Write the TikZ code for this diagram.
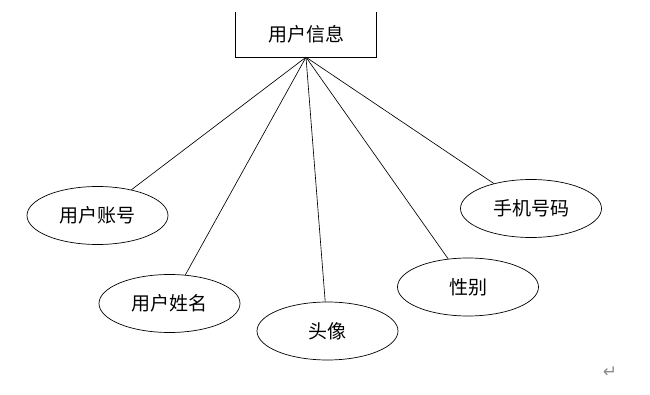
\documentclass[tikz,border=0pt]{standalone}
\usepackage{fontspec}
\usepackage{tikz}
\usetikzlibrary{shapes.geometric}
\newfontfamily\cjk{Noto Sans CJK SC}
\newfontfamily\symb{DejaVu Sans}
\definecolor{markc}{HTML}{8C8C8C}

\begin{document}
\begin{tikzpicture}[x=1pt, y=-1pt,
  attr/.style={draw, ellipse, line width=0.7pt, minimum width=141pt, minimum height=58pt, inner sep=0pt, font=\cjk\fontsize{19}{22}\selectfont},
  link/.style={line width=0.65pt}]
  \useasboundingbox (0,0) rectangle (650,395);
  % entity box, open at the top
  \node[minimum width=140pt, minimum height=45pt, font=\cjk\fontsize{19}{22}\selectfont] (info) at (306,34.5) {用户信息};
  \draw[link] (info.north west) -- (info.south west) -- (info.south east) -- (info.north east);
  \coordinate (hub) at (info.south);
  % attributes
  \node[attr] (acct) at (97.5,215.5) {用户账号};
  \node[attr] (uname) at (169.5,303.5) {用户姓名};
  \node[attr] (avatar) at (327.5,331) {头像};
  \node[attr] (sex) at (468,287) {性别};
  \node[attr] (phone) at (531,208.5) {手机号码};
  \foreach \n in {acct,uname,avatar,sex,phone}
    \draw[link] (hub) -- (\n);
  \node[font=\symb\fontsize{17}{17}\selectfont, text=markc] (mark) at (610,372) {↵};
\end{tikzpicture}
\end{document}
